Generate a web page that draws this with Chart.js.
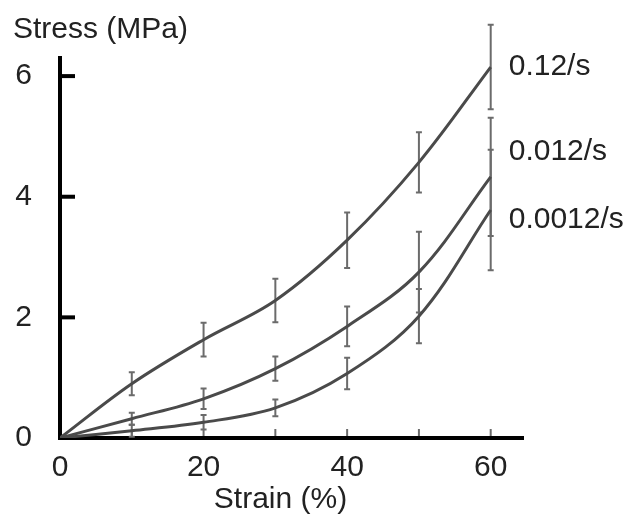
<!DOCTYPE html>
<html>
<head>
<meta charset="utf-8">
<title>Stress vs Strain</title>
<script src="https://cdn.jsdelivr.net/npm/chart.js@4.4.1/dist/chart.umd.min.js"></script>
<style>
    html, body { margin: 0; padding: 0; background: #fff; }
    .chart-box { width: 631px; height: 520px; position: relative; }
</style>
</head>
<body>
<div class="chart-box"><canvas id="stressChart"></canvas></div>
<script>
// ===== DATA =====
const strain = [0, 10, 20, 30, 40, 50, 60];
const rateLabels = ['0.12/s', '0.012/s', '0.0012/s'];

const stressFast = [0, 0.9, 1.63, 2.28, 3.28, 4.57, 6.15];
const stressMid  = [0, 0.32, 0.65, 1.15, 1.85, 2.75, 4.33];
const stressSlow = [0, 0.12, 0.26, 0.5, 1.07, 2.02, 3.78];

const errFast = [0, 0.19, 0.28, 0.36, 0.46, 0.5, 0.7];
const errMid  = [0, 0.1, 0.17, 0.2, 0.33, 0.67, 0.98];
const errSlow = [0, 0.1, 0.12, 0.14, 0.26, 0.45, 1.0];

const stressTicks = [0, 2, 4, 6];
const strainTicks = [0, 20, 40, 60];
const strainMarks = [10, 20, 30, 40, 50, 60];

(function() {
    'use strict';

    const series = [stressFast, stressMid, stressSlow];
    const errors = [errFast, errMid, errSlow];
    const labelShift = [0, -25, 10];   // px, keeps rate labels clear of each other
    const FONT = '"Liberation Sans", Arial, sans-serif';

    // ===== ERROR BARS + AXIS MARKS =====
    const decorations = {
        id: 'decorations',
        beforeDatasetsDraw(chart) {
            const { ctx, scales: { x, y } } = chart;
            ctx.save();
            ctx.strokeStyle = '#6b6b6b';
            ctx.lineWidth = 2;
            series.forEach((vals, i) => {
                vals.forEach((v, j) => {
                    const e = errors[i][j];
                    if (!e) return;
                    const px = x.getPixelForValue(strain[j]);
                    const top = y.getPixelForValue(v + e);
                    const bot = y.getPixelForValue(v - e);
                    ctx.beginPath();
                    ctx.moveTo(px, top); ctx.lineTo(px, bot);
                    ctx.moveTo(px - 3, top); ctx.lineTo(px + 3, top);
                    ctx.moveTo(px - 3, bot); ctx.lineTo(px + 3, bot);
                    ctx.stroke();
                });
            });

            // small marks on the strain axis
            const base = y.getPixelForValue(0);
            strainMarks.forEach(s => {
                const px = x.getPixelForValue(s);
                ctx.beginPath();
                ctx.moveTo(px, base - 2);
                ctx.lineTo(px, base - 9);
                ctx.stroke();
            });

            // inward ticks on the stress axis
            ctx.strokeStyle = '#000';
            ctx.lineWidth = 4;
            stressTicks.forEach(v => {
                if (v === 0) return;
                const py = y.getPixelForValue(v);
                ctx.beginPath();
                ctx.moveTo(x.left, py);
                ctx.lineTo(x.left + 15, py);
                ctx.stroke();
            });
            ctx.restore();
        },
        afterDatasetsDraw(chart) {
            const { ctx, scales: { x, y } } = chart;
            ctx.save();
            ctx.font = '30px ' + FONT;
            ctx.fillStyle = '#222';
            ctx.textBaseline = 'middle';
            ctx.textAlign = 'left';
            series.forEach((vals, i) => {
                const last = vals.length - 1;
                const px = x.getPixelForValue(strain[last]) + 18;
                const py = y.getPixelForValue(vals[last]) + labelShift[i];
                ctx.fillText(rateLabels[i], px, py);
            });

            // x axis title, sits a little left of the axis centre
            ctx.textAlign = 'center';
            ctx.fillText('Strain (%)', (x.left + x.right) / 2 - 11, x.bottom - 20);
            ctx.restore();
        }
    };

    const ctx = document.getElementById('stressChart').getContext('2d');

    new Chart(ctx, {
        type: 'line',
        data: {
            datasets: series.map((vals, i) => ({
                label: rateLabels[i],
                data: vals.map((v, j) => ({ x: strain[j], y: v })),
                borderColor: '#4a4a4a',
                borderWidth: 3,
                pointRadius: 0,
                fill: false,
                tension: 0.35
            }))
        },
        options: {
            responsive: true,
            maintainAspectRatio: false,
            animation: false,
            layout: { padding: { left: 13, right: 108, top: 0, bottom: 0 } },
            plugins: {
                legend: { display: false },
                tooltip: { enabled: false },
                title: {
                    display: true,
                    text: 'Stress (MPa)',
                    align: 'start',
                    color: '#222',
                    font: { family: FONT, size: 30, weight: 'normal', lineHeight: 1.2 },
                    padding: { top: 12, bottom: 10 }
                }
            },
            scales: {
                x: {
                    type: 'linear',
                    min: 0,
                    max: 64.5,
                    afterBuildTicks: s => { s.ticks = strainTicks.map(v => ({ value: v })); },
                    afterFit: s => { s.height = 82; },
                    grid: { display: false, drawTicks: false },
                    border: { display: true, color: '#000', width: 4 },
                    ticks: {
                        padding: 12,
                        color: '#222',
                        font: { family: FONT, size: 30 }
                    }
                },
                y: {
                    min: 0,
                    max: 6.3,
                    afterBuildTicks: s => { s.ticks = stressTicks.map(v => ({ value: v })); },
                    afterFit: s => { s.width = 47; },
                    grid: { display: false, drawTicks: false },
                    border: { display: true, color: '#000', width: 4 },
                    ticks: {
                        padding: 28,
                        color: '#222',
                        font: { family: FONT, size: 30 }
                    }
                }
            }
        },
        plugins: [decorations]
    });
})();
</script>
</body>
</html>
